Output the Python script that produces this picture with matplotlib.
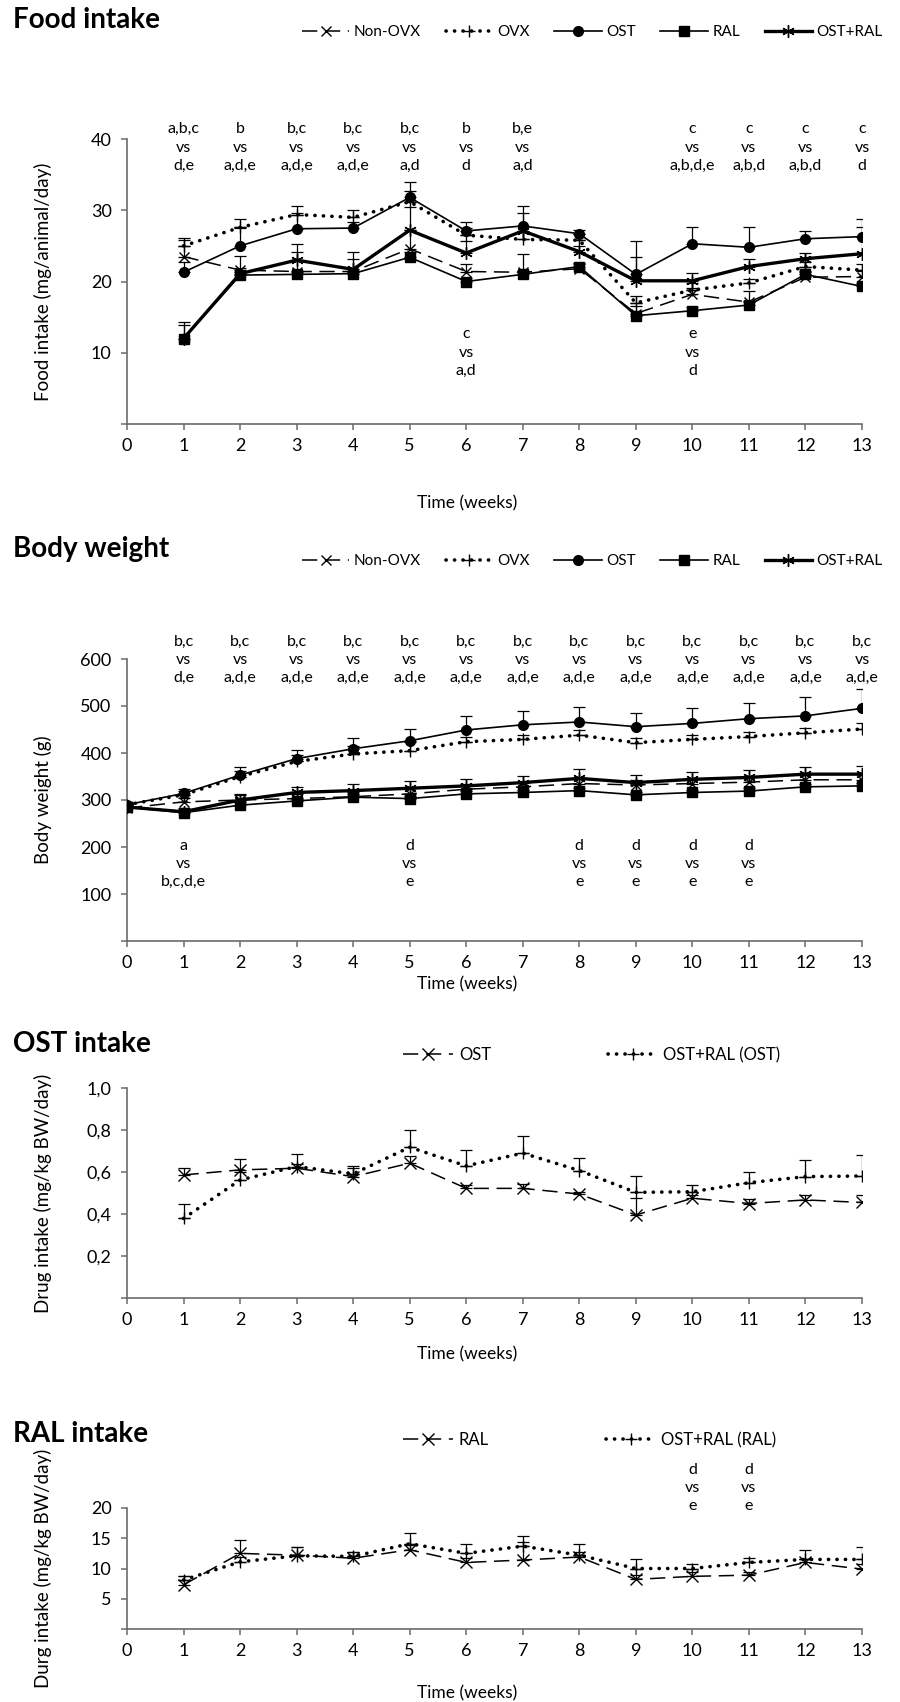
import matplotlib
matplotlib.use('Agg')
import matplotlib.pyplot as plt

plt.rcParams['font.family'] = ['Lato', 'DejaVu Sans']
plt.rcParams['font.size'] = 12

# ---- data ----
weeks = [1, 2, 3, 4, 5, 6, 7, 8, 9, 10, 11, 12, 13]
weeks0 = [0, 1, 2, 3, 4, 5, 6, 7, 8, 9, 10, 11, 12, 13]
group_names = ['Non-OVX', 'OVX', 'OST', 'RAL', 'OST+RAL']

# food intake (mg/animal/day)
food_nonovx = [23.5, 21.6, 21.4, 21.4, 24.6, 21.4, 21.3, 21.8, 15.5, 18.2, 17.1, 20.6, 20.7]
food_ovx = [25.0, 27.6, 29.4, 29.0, 31.2, 26.5, 25.9, 25.8, 17.0, 18.8, 19.8, 22.1, 21.6]
food_ost = [21.3, 25.0, 27.4, 27.5, 31.8, 27.1, 27.8, 26.7, 21.0, 25.3, 24.8, 26.0, 26.3]
food_ral = [12.0, 20.9, 21.0, 21.1, 23.4, 20.0, 21.0, 22.1, 15.2, 15.9, 16.7, 21.0, 19.3]
food_ostral = [12.0, 21.1, 23.0, 21.7, 27.2, 24.0, 27.1, 24.2, 20.1, 20.1, 22.1, 23.2, 23.9]
food_nonovx_err = [2.3, 2.0, 2.8, 1.7, 2.6, 1.0, 2.5, 0.8, 1.0, 0.9, 1.5, 0.7, 0.8]
food_ovx_err = [1.1, 1.2, 1.2, 1.0, 1.5, 1.0, 1.0, 0.8, 1.0, 1.0, 0.5, 0.6, 0.8]
food_ost_err = [1.5, 2.5, 2.2, 0.8, 2.1, 1.3, 2.8, 0.5, 4.7, 2.4, 2.8, 1.1, 2.5]
food_ral_err = [2.3, 0.5, 0.5, 0.4, 0.8, 0.5, 0.5, 0.4, 0.6, 0.5, 0.5, 0.5, 0.5]
food_ostral_err = [1.9, 0.8, 2.2, 2.4, 3.3, 1.7, 2.5, 0.8, 3.4, 1.1, 1.0, 0.8, 3.7]

# body weight (g)
bw_nonovx = [283, 296, 300, 303, 307, 313, 323, 328, 335, 332, 335, 338, 343, 343]
bw_ovx = [290, 311, 350, 382, 398, 405, 424, 429, 438, 422, 429, 435, 443, 451]
bw_ost = [290, 314, 353, 388, 409, 426, 449, 460, 466, 456, 463, 473, 479, 495]
bw_ral = [285, 273, 289, 298, 306, 303, 313, 316, 320, 311, 316, 319, 328, 330]
bw_ostral = [285, 275, 300, 316, 320, 325, 330, 337, 346, 337, 344, 348, 355, 355]
bw_nonovx_err = [8, 8, 10, 10, 10, 12, 10, 10, 10, 10, 10, 10, 10, 12]
bw_ovx_err = [6, 8, 12, 14, 16, 18, 10, 10, 10, 10, 10, 10, 10, 12]
bw_ost_err = [6, 10, 18, 18, 22, 26, 29, 30, 31, 30, 32, 33, 40, 41]
bw_ral_err = [5, 6, 6, 6, 6, 6, 6, 6, 6, 6, 6, 6, 6, 6]
bw_ostral_err = [6, 8, 12, 12, 15, 16, 14, 14, 20, 16, 16, 16, 16, 18]

# OST intake (mg/kg BW/day)
ost_ost = [0.586, 0.61, 0.618, 0.578, 0.642, 0.522, 0.522, 0.495, 0.395, 0.475, 0.45, 0.467, 0.455]
ost_ostral = [0.379, 0.562, 0.626, 0.591, 0.718, 0.629, 0.69, 0.607, 0.503, 0.506, 0.549, 0.578, 0.581]
ost_ost_err = [0.035, 0.05, 0.02, 0.05, 0.035, 0.015, 0.02, 0.01, 0.08, 0.015, 0.02, 0.025, 0.035]
ost_ostral_err = [0.068, 0.04, 0.06, 0.03, 0.08, 0.076, 0.08, 0.06, 0.08, 0.03, 0.05, 0.08, 0.10]

# RAL intake (mg/kg BW/day)
ral_ral = [7.3, 12.5, 12.2, 11.7, 13.1, 11.0, 11.4, 11.9, 8.2, 8.7, 8.9, 11.0, 9.9]
ral_ostral = [8.1, 11.1, 12.1, 12.0, 14.1, 12.5, 13.7, 12.2, 10.0, 10.0, 11.0, 11.5, 11.5]
ral_ral_err = [1.5, 2.2, 1.4, 1.1, 0.8, 0.8, 3.0, 0.8, 0.7, 0.7, 0.5, 0.5, 0.8]
ral_ostral_err = [0.7, 0.8, 1.5, 0.8, 1.7, 1.5, 1.7, 1.9, 1.6, 0.7, 0.8, 1.5, 2.1]

# significance notes
food_top_weeks = [1, 2, 3, 4, 5, 6, 7, 10, 11, 12, 13]
food_top_text = ['a,b,c\nvs\nd,e', 'b\nvs\na,d,e', 'b,c\nvs\na,d,e', 'b,c\nvs\na,d,e',
                 'b,c\nvs\na,d', 'b\nvs\nd', 'b,e\nvs\na,d', 'c\nvs\na,b,d,e',
                 'c\nvs\na,b,d', 'c\nvs\na,b,d', 'c\nvs\nd']
food_low_weeks = [6, 10]
food_low_text = ['c\nvs\na,d', 'e\nvs\nd']
bw_top_weeks = weeks
bw_top_text = ['b,c\nvs\nd,e'] + ['b,c\nvs\na,d,e'] * 12
bw_low_weeks = [1, 5, 8, 9, 10, 11]
bw_low_text = ['a\nvs\nb,c,d,e'] + ['d\nvs\ne'] * 5
ral_top_weeks = [10, 11]
ral_top_text = ['d\nvs\ne', 'd\nvs\ne']

xticks = list(range(14))
food_yticks = [0, 10, 20, 30, 40]
food_ylabels = ['', '10', '20', '30', '40']
bw_yticks = [0, 100, 200, 300, 400, 500, 600]
bw_ylabels = ['', '100', '200', '300', '400', '500', '600']
ost_yticks = [0, 0.2, 0.4, 0.6, 0.8, 1.0]
ost_ylabels = ['', '0,2', '0,4', '0,6', '0,8', '1,0']
ral_yticks = [0, 5, 10, 15, 20]
ral_ylabels = ['', '5', '10', '15', '20']

# ---- styles ----
H = 1702.0
W = 900.0
gray = '#6b6b6b'
dot = (0, (0.05, 2.3))
dash = (0, (10, 5))
st_nonovx = dict(color='k', lw=1.1, ls=dash, marker='x', ms=7, mew=1.0)
st_ovx = dict(color='k', lw=2.6, ls=dot, dash_capstyle='round', marker='+', ms=8, mew=1.0)
st_ost = dict(color='k', lw=1.2, ls='-', marker='o', ms=7)
st_ral = dict(color='k', lw=1.2, ls='-', marker='s', ms=7)
st_ostral = dict(color='k', lw=2.4, ls='-', marker=(6, 2, 0), ms=9, mew=1.0)


def fy(y):
    return 1 - y / H


def make_axes(top, bottom):
    ax = fig.add_axes([127 / W, fy(bottom), 735 / W, (bottom - top) / H])
    for s in ['top', 'right']:
        ax.spines[s].set_visible(False)
    for s in ['left', 'bottom']:
        ax.spines[s].set_color(gray)
        ax.spines[s].set_linewidth(1.2)
    ax.tick_params(direction='out', length=4, width=1.1, color=gray, labelsize=13)
    ax.tick_params(axis='y', pad=7)
    ax.tick_params(axis='x', pad=6)
    ax.set_xlim(0, 13)
    ax.set_xticks(xticks)
    ax.yaxis.set_label_coords(-0.102, 0.5)
    return ax


def series(ax, x, y, err, st):
    ax.errorbar(x, y, yerr=[[0] * len(err), err], fmt='none', ecolor='k',
                elinewidth=0.9, capsize=4.5, capthick=0.9, zorder=2)
    line, = ax.plot(x, y, zorder=3, **st)
    return line


def notes(ax, xs, texts, y):
    for x, t in zip(xs, texts):
        ax.text(x, y, t, ha='center', va='center', fontsize=11.5, linespacing=1.4)


fig = plt.figure(figsize=(9, 17.02), dpi=100)

# ---- panel 1: food intake ----
ax1 = make_axes(139, 424)
h1 = [series(ax1, weeks, food_nonovx, food_nonovx_err, st_nonovx),
      series(ax1, weeks, food_ovx, food_ovx_err, st_ovx),
      series(ax1, weeks, food_ost, food_ost_err, st_ost),
      series(ax1, weeks, food_ral, food_ral_err, st_ral),
      series(ax1, weeks, food_ostral, food_ostral_err, st_ostral)]
ax1.set_ylim(0, 40)
ax1.set_yticks(food_yticks)
ax1.set_yticklabels(food_ylabels)
ax1.set_ylabel('Food intake (mg/animal/day)', fontsize=13.5)
notes(ax1, food_top_weeks, food_top_text, 38.8)
notes(ax1, food_low_weeks, food_low_text, 10.0)

# ---- panel 2: body weight ----
ax2 = make_axes(659, 941)
h2 = [series(ax2, weeks0, bw_nonovx, bw_nonovx_err, st_nonovx),
      series(ax2, weeks0, bw_ovx, bw_ovx_err, st_ovx),
      series(ax2, weeks0, bw_ost, bw_ost_err, st_ost),
      series(ax2, weeks0, bw_ral, bw_ral_err, st_ral),
      series(ax2, weeks0, bw_ostral, bw_ostral_err, st_ostral)]
ax2.set_ylim(0, 600)
ax2.set_yticks(bw_yticks)
ax2.set_yticklabels(bw_ylabels)
ax2.set_ylabel('Body weight (g)', fontsize=13.5)
notes(ax2, bw_top_weeks, bw_top_text, 598)
notes(ax2, bw_low_weeks, bw_low_text, 164)

# ---- panel 3: OST intake ----
ax3 = make_axes(1088, 1298)
h3 = [series(ax3, weeks, ost_ost, ost_ost_err, dict(st_nonovx, ms=8)),
      series(ax3, weeks, ost_ostral, ost_ostral_err, st_ovx)]
ax3.set_ylim(0, 1.0)
ax3.set_yticks(ost_yticks)
ax3.set_yticklabels(ost_ylabels)
ax3.set_ylabel('Drug intake (mg/kg BW/day)', fontsize=13.5)

# ---- panel 4: RAL intake ----
ax4 = make_axes(1508, 1629)
h4 = [series(ax4, weeks, ral_ral, ral_ral_err, dict(st_nonovx, ms=8)),
      series(ax4, weeks, ral_ostral, ral_ostral_err, st_ovx)]
ax4.set_ylim(0, 20)
ax4.set_yticks(ral_yticks)
ax4.set_yticklabels(ral_ylabels)
ax4.set_ylabel('Durg intake (mg/kg BW/day)', fontsize=13.5)
notes(ax4, ral_top_weeks, ral_top_text, 23.3)

# ---- titles, legends, x labels ----
titles = [('Food intake', 20), ('Body weight', 549), ('OST intake', 1044), ('RAL intake', 1434)]
for t, y in titles:
    fig.text(13 / W, fy(y), t, fontsize=20, fontweight='bold', va='center', ha='left')

for y in [32, 561]:
    fig.legend(h1, group_names, loc='center left', bbox_to_anchor=(302 / W, fy(y)),
               ncol=5, frameon=False, handlelength=3.1, handletextpad=0.3,
               columnspacing=1.6, borderpad=0, borderaxespad=0, fontsize=11)

fig.legend(h3, ['OST', 'OST+RAL (OST)'], loc='center left', bbox_to_anchor=(403 / W, fy(1055)),
           ncol=2, frameon=False, handlelength=3.0, handletextpad=0.35,
           columnspacing=7.0, borderpad=0, borderaxespad=0, fontsize=12)
fig.legend(h4, ['RAL', 'OST+RAL (RAL)'], loc='center left', bbox_to_anchor=(403 / W, fy(1440)),
           ncol=2, frameon=False, handlelength=3.0, handletextpad=0.35,
           columnspacing=7.0, borderpad=0, borderaxespad=0, fontsize=12)

for y in [503, 984, 1354, 1693]:
    fig.text(467 / W, fy(y), 'Time (weeks)', fontsize=12.5, ha='center', va='center')

fig.savefig('out.png', dpi=100)
